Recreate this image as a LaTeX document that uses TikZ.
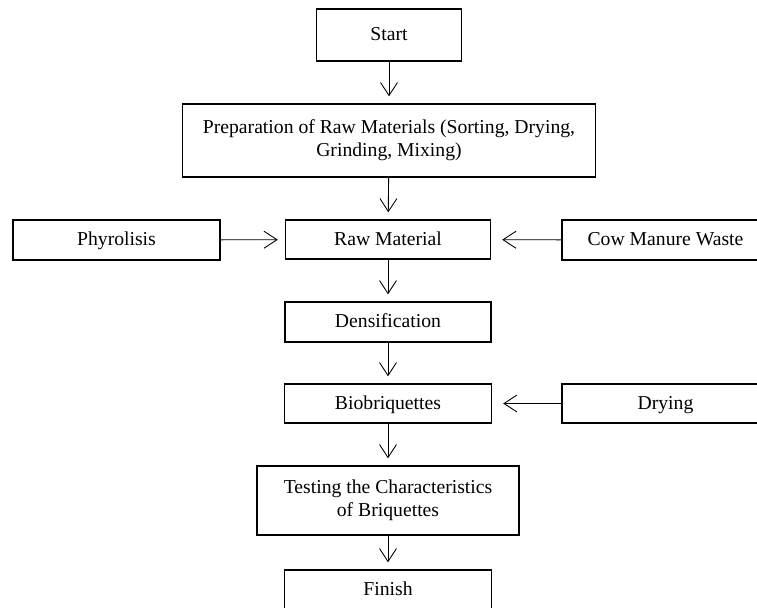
\documentclass[tikz,border=0pt]{standalone}
\usepackage{fontspec}
\setmainfont{Liberation Serif}
\usepackage{tikz}
\usetikzlibrary{shapes,arrows,positioning,calc,arrows.meta}

\begin{document}
\begin{tikzpicture}[
    box/.style={draw, line width=0.8pt, align=center, inner sep=2pt,
        font=\fontsize{11.2}{13}\selectfont},
    oneline/.style={box, text height=1.85ex, text depth=0.4ex},
    flow/.style={-{Straight Barb[length=2.6mm,width=3.4mm]}, line width=0.5pt, shorten >=1.4mm},
    side/.style={-{Straight Barb[length=2.6mm,width=3.4mm]}, line width=0.5pt, shorten >=2.2mm}
]
    \useasboundingbox (0,0) rectangle (15.14,-12.14);
    \clip (0,0) rectangle (15.14,-12.14);

    \node[oneline, minimum width=2.9cm, minimum height=1.04cm] (start) at (7.78,-0.70) {Start};
    \node[box, minimum width=8.26cm, minimum height=1.46cm] (prep) at (7.78,-2.81)
        {Preparation of Raw Materials (Sorting, Drying,\\ Grinding, Mixing)};
    \node[oneline, minimum width=4.1cm, minimum height=0.78cm] (raw) at (7.76,-4.79) {Raw Material};
    \node[oneline, minimum width=4.14cm, minimum height=0.8cm] (phyro) at (2.33,-4.80) {Phyrolisis};
    \node[oneline, minimum width=4.14cm, minimum height=0.8cm] (cow) at (13.31,-4.80) {Cow Manure Waste};
    \node[oneline, minimum width=4.12cm, minimum height=0.8cm] (dens) at (7.76,-6.44) {Densification};
    \node[oneline, minimum width=4.14cm, minimum height=0.78cm] (bio) at (7.76,-8.07) {Biobriquettes};
    \node[oneline, minimum width=4.14cm, minimum height=0.78cm] (dry) at (13.31,-8.07) {Drying};
    \node[box, minimum width=5.24cm, minimum height=1.38cm] (test) at (7.76,-10.01)
        {Testing the Characteristics\\ of Briquettes};
    \node[oneline, minimum width=4.14cm, minimum height=0.8cm] (finish) at (7.76,-11.80) {Finish};

    \draw[flow] (start) -- (prep);
    \draw[flow] (prep) -- (raw);
    \draw[flow] (raw) -- (dens);
    \draw[flow] (dens) -- (bio);
    \draw[flow] (bio) -- (test);
    \draw[flow] (test) -- (finish);

    \draw[flow] (phyro) -- (raw);
    \draw[side] (cow) -- (raw);
    \draw[side] (dry) -- (bio);
\end{tikzpicture}
\end{document}
